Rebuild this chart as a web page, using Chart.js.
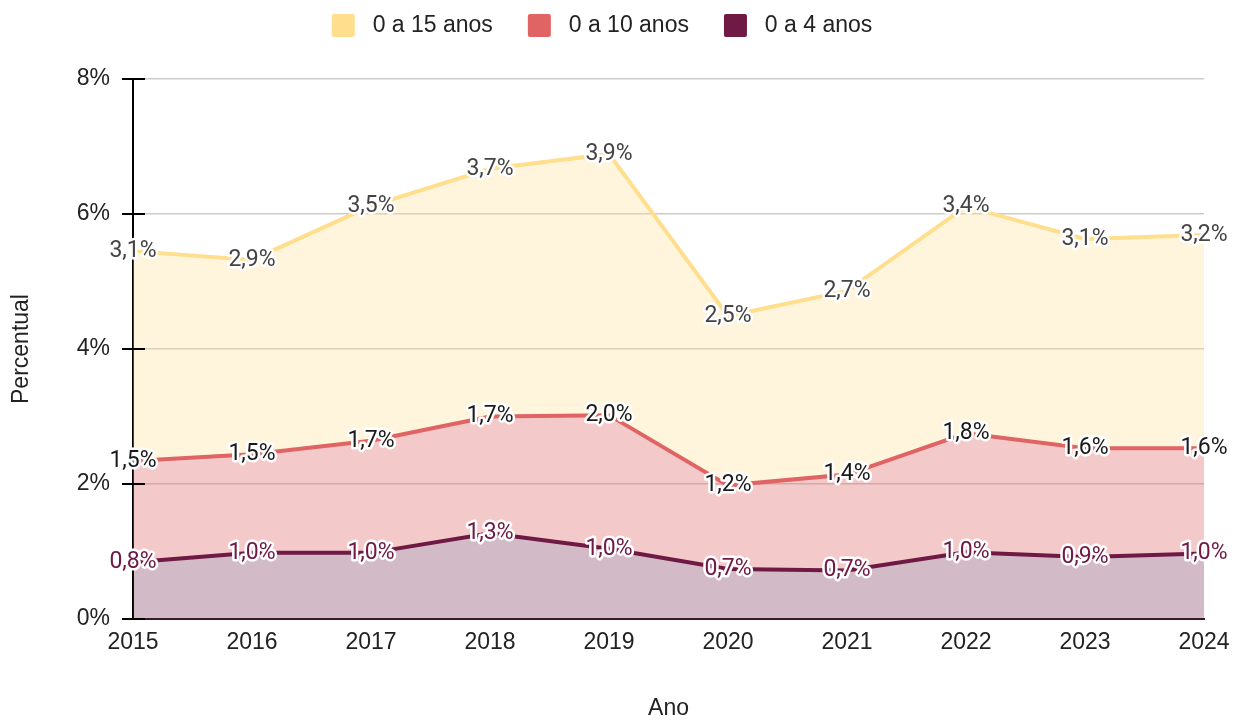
<!DOCTYPE html>
<html>
<head>
<meta charset="utf-8">
<script src="https://cdn.jsdelivr.net/npm/chart.js@4/dist/chart.umd.min.js"></script>
<style>
  html, body { margin: 0; padding: 0; background: #fff; }
  #wrap { width: 1239px; height: 722px; }
</style>
</head>
<body>
<div id="wrap"><canvas id="chart" width="1239" height="722"></canvas></div>
<script>
// dados (percentual)
var anos = ['2015', '2016', '2017', '2018', '2019', '2020', '2021', '2022', '2023', '2024'];
var ate4 = [0.84, 0.98, 0.98, 1.27, 1.04, 0.74, 0.72, 0.99, 0.92, 0.97];
var ate10 = [1.50, 1.46, 1.66, 1.73, 1.98, 1.24, 1.42, 1.76, 1.61, 1.56];
var ate15 = [3.11, 2.88, 3.48, 3.67, 3.87, 2.51, 2.72, 3.36, 3.10, 3.16];
var yTicks = [0, 2, 4, 6, 8];

const AXIS_FONT = 'Liberation Sans, Arial, sans-serif';
const LABEL_FONT = 'Roboto, sans-serif';
const LEGEND_PAD = 35;
const LEGEND_TOP = 14;
const AREA_TOP = 79;

var series = [
    {label: '0 a 4 anos', data: ate4, line: '#6E1A44', fill: 'rgba(110,26,68,0.3)', text: '#6E1A44'},
    {label: '0 a 10 anos', data: ate10, line: '#E06464', fill: 'rgba(224,100,100,0.35)', text: '#1a1a1a'},
    {label: '0 a 15 anos', data: ate15, line: '#FFDF8E', fill: 'rgba(255,223,142,0.3)', text: '#444444'}
];

// rótulos de valor com contorno branco
var valueLabels = {
    id: 'valueLabels',
    afterDatasetsDraw: function (chart) {
        var ctx = chart.ctx;
        ctx.save();
        ctx.font = '23px ' + LABEL_FONT;
        ctx.textAlign = 'center';
        ctx.textBaseline = 'middle';
        ctx.lineJoin = 'round';
        chart.data.datasets.forEach(function (ds, i) {
            var meta = chart.getDatasetMeta(i);
            meta.data.forEach(function (pt, j) {
                var txt = ds.data[j].toFixed(1).replace('.', ',') + '%';
                ctx.lineWidth = 5;
                ctx.strokeStyle = '#ffffff';
                ctx.strokeText(txt, pt.x, pt.y);
                ctx.fillStyle = series[i].text;
                ctx.fillText(txt, pt.x, pt.y);
            });
        });
        ctx.restore();
    }
};

// marcas em cruz no eixo y
var yCross = {
    id: 'yCross',
    afterDatasetsDraw: function (chart) {
        var ctx = chart.ctx;
        var y = chart.scales.y;
        var x0 = chart.chartArea.left;
        ctx.save();
        ctx.strokeStyle = '#000000';
        ctx.lineWidth = 2;
        yTicks.forEach(function (v) {
            var py = y.getPixelForValue(v);
            ctx.beginPath();
            ctx.moveTo(x0 - 11, py);
            ctx.lineTo(x0 + 12, py);
            ctx.stroke();
        });
        ctx.restore();
    }
};

// legenda mais alta para empurrar a área do gráfico
var legendSpace = {
    id: 'legendSpace',
    beforeLayout: function (chart) {
        var lg = chart.legend;
        if (lg && !lg._patched) {
            var fit = lg.fit;
            lg.fit = function () {
                fit.call(this);
                this.height = AREA_TOP - (LEGEND_TOP - LEGEND_PAD);
            };
            lg._patched = true;
        }
    }
};

var ctx = document.getElementById('chart');
new Chart(ctx, {
    type: 'line',
    data: {
        labels: anos,
        datasets: series.map(function (s, i) {
            return {
                label: s.label,
                data: s.data,
                borderColor: s.line,
                backgroundColor: s.fill,
                borderWidth: 4,
                pointRadius: 0,
                tension: 0,
                fill: i === 0 ? 'origin' : '-1'
            };
        })
    },
    options: {
        responsive: false,
        animation: false,
        layout: {padding: {top: LEGEND_TOP - LEGEND_PAD, right: 35, left: 0, bottom: 0}},
        plugins: {
            tooltip: {enabled: false},
            legend: {
                position: 'top',
                reverse: true,
                labels: {
                    font: {family: AXIS_FONT, size: 23},
                    color: '#222222',
                    boxWidth: 23,
                    boxHeight: 23,
                    padding: LEGEND_PAD,
                    useBorderRadius: true,
                    borderRadius: 2,
                    generateLabels: function (chart) {
                        var items = Chart.defaults.plugins.legend.labels.generateLabels(chart);
                        items.forEach(function (it) {
                            it.text = ' ' + it.text;
                            it.fillStyle = series[it.datasetIndex].line;
                            it.strokeStyle = series[it.datasetIndex].line;
                            it.lineWidth = 0;
                        });
                        return items;
                    }
                }
            }
        },
        scales: {
            x: {
                grid: {display: false},
                border: {display: true, color: '#222222', width: 2},
                ticks: {
                    font: {family: AXIS_FONT, size: 23},
                    color: '#222222',
                    padding: 2,
                    maxRotation: 0
                },
                title: {
                    display: true,
                    text: 'Ano',
                    font: {family: AXIS_FONT, size: 23},
                    color: '#222222',
                    padding: {top: 0, bottom: 0}
                },
                afterFit: function (scale) { scale.height = 103; }
            },
            y: {
                stacked: true,
                min: 0,
                max: 8,
                afterBuildTicks: function (scale) {
                    scale.ticks = yTicks.map(function (v) { return {value: v}; });
                },
                grid: {color: '#cccccc', lineWidth: 1.5, drawTicks: false},
                border: {display: true, color: '#000000', width: 2},
                ticks: {
                    font: {family: AXIS_FONT, size: 23},
                    color: '#222222',
                    padding: 23,
                    callback: function (v) { return v + '%'; }
                },
                title: {
                    display: true,
                    text: 'Percentual',
                    font: {family: AXIS_FONT, size: 23},
                    color: '#222222',
                    padding: 8
                },
                afterFit: function (scale) { scale.width = 133; }
            }
        }
    },
    plugins: [valueLabels, yCross, legendSpace]
});
</script>
</body>
</html>
